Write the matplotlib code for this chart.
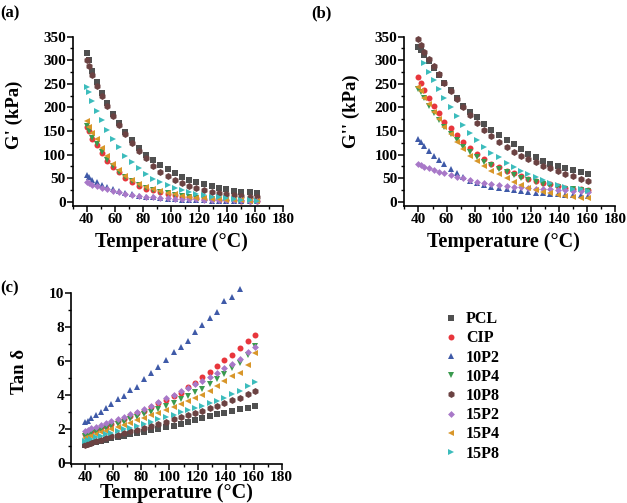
import numpy as np
import matplotlib.pyplot as plt
from matplotlib.ticker import MultipleLocator

plt.rcParams['font.family'] = ['Liberation Serif', 'DejaVu Serif']
plt.rcParams['font.weight'] = 'bold'
plt.rcParams['axes.labelweight'] = 'bold'

nan = np.nan

# temperature (°C)
temp = [40, 41.5, 44, 47.5, 51, 54.5, 58.5, 63, 67.5, 72, 77, 82, 87, 92, 97.5,
        103, 108, 113, 118, 123.5, 129, 134, 139, 144.5, 150, 156, 161]

names = ['PCL', 'CIP', '10P2', '10P4', '10P8', '15P2', '15P4', '15P8']

# G' (kPa)
g1_pcl = [316, 300, 278, 253, 230, 209, 187, 168, 148, 131, 114, 100, 88, 78, 69, 61, 53, 47, 42, 37, 33, 30, 26, 23, 21, 20, 18]
g1_cip = [158, 150, 134, 120, 103, 86, 74, 62, 50, 41, 34, 28, 24, 20, 17, 14, 11, 9, 7.5, 6, 5, 4, 3.5, 3, 2.5, 2, 2]
g1_10p2 = [56, 52, 46, 41, 36, 31, 27, 23, 19, 16, 13, 11, 9, 7.5, 6, 5, 4.5, 4, 3.5, 3, 2.5, 2, 2, 1.5, 1.5, 1.5, 1]
g1_10p4 = [160, 149, 136, 122, 106, 89, 76, 64, 52, 43, 36, 30, 25, 21, 18, 15, 12, 10, 8, 6.5, 5.5, 4.5, 4, 3.5, 3, 2.5, 2]
g1_10p8 = [300, 288, 268, 246, 224, 204, 182, 162, 143, 125, 107, 92, 76, 64, 54, 46, 40, 34, 29, 25, 21, 18, 16, 14, 12, 11, 10]
g1_15p2 = [42, 39, 36, 33, 29, 26, 23, 20, 17, 15, 13, 11, 10, 8.5, 7.5, 6.5, 6, 5.5, 5, 4.5, 4, 3.5, 3.5, 3, 3, 2.5, 2.5]
g1_15p4 = [172, 159, 145, 132, 113, 96, 80, 67, 55, 46, 38, 32, 27, 23, 19, 16, 13, 10, 8.5, 7, 6, 5, 4, 3.5, 3, 2.5, 2]
g1_15p8 = [243, 232, 214, 193, 173, 153, 134, 117, 98, 84, 71, 59, 49, 41, 35, 29, 24, 20, 17, 14, 11, 9, 7, 5, 4, 3, 2]

# G'' (kPa)
g2_pcl = [328, 322, 312, 298, 284, 268, 252, 236, 219, 204, 191, 179, 165, 152, 142, 131, 122, 111, 102, 94, 86, 80, 76, 71, 67, 63, 59]
g2_cip = [264, 252, 237, 221, 203, 188, 170, 156, 141, 127, 113, 101, 90, 81, 73, 66, 60, 54, 48, 44, 40, 37, 33, 30, 28, 26, 24]
g2_10p2 = [132, 127, 118, 108, 97, 88, 79, 69, 60, 53, 45, 40, 36, 32, 29, 26, 24, 22, 21, 19, 18, 17, 16, 15, 14, 13.5, 13]
g2_10p4 = [240, 233, 219, 204, 189, 173, 158, 143, 130, 117, 105, 94, 85, 77, 70, 63, 57, 51, 46, 42, 38, 34, 31, 28, 26, 24, 22]
g2_10p8 = [345, 333, 318, 302, 287, 270, 252, 235, 217, 200, 184, 166, 152, 139, 127, 117, 106, 98, 91, 84, 76, 71, 65, 59, 54, 49, 44]
g2_15p2 = [81, 78, 74, 71, 67, 64, 60, 57, 53, 50, 46, 42, 40, 37.5, 35, 33, 32, 30.5, 29, 27.5, 27, 26, 25, 24, 23, 22.5, 21]
g2_15p4 = [243, 235, 221, 207, 191, 175, 159, 144, 127, 112, 98, 86, 76, 66, 58, 50, 42, 35, 30, 25, 21, 18, 14, 12, 10.5, 8.5, 7]
g2_15p8 = [nan, nan, 294, 276, 258, 238, 221, 201, 182, 163, 146, 131, 117, 104, 94, 83, 74, 66, 59, 52, 46, 40, 35, 32, 28, 26, 23]

# Tan delta
td_pcl = [1.05, 1.1, 1.16, 1.23, 1.3, 1.37, 1.45, 1.52, 1.6, 1.68, 1.76, 1.84, 1.92, 2.0, 2.1, 2.2, 2.3, 2.42, 2.52, 2.64, 2.75, 2.86, 2.96, 3.07, 3.16, 3.25, 3.35]
td_cip = [1.72, 1.78, 1.86, 1.97, 2.08, 2.2, 2.32, 2.45, 2.6, 2.75, 2.92, 3.08, 3.27, 3.5, 3.73, 3.94, 4.12, 4.45, 4.72, 5.04, 5.37, 5.71, 6.05, 6.35, 6.75, 7.18, 7.55]
td_10p2 = [2.39, 2.49, 2.67, 2.82, 3.02, 3.21, 3.47, 3.74, 3.94, 4.29, 4.49, 4.92, 5.31, 5.63, 6.06, 6.55, 6.84, 7.2, 7.69, 8.12, 8.51, 8.88, 9.55, 9.78, 10.24, nan, nan]
td_10p4 = [1.6, 1.66, 1.74, 1.85, 1.95, 2.05, 2.17, 2.3, 2.43, 2.56, 2.7, 2.86, 3.02, 3.2, 3.38, 3.55, 3.75, 3.95, 4.15, 4.38, 4.65, 4.95, 5.25, 5.57, 5.9, 6.35, 6.9]
td_10p8 = [1.08, 1.13, 1.2, 1.3, 1.38, 1.46, 1.56, 1.66, 1.76, 1.86, 1.97, 2.08, 2.2, 2.3, 2.42, 2.56, 2.68, 2.8, 2.93, 3.07, 3.22, 3.37, 3.52, 3.68, 3.85, 4.03, 4.24]
td_15p2 = [1.9, 1.96, 2.04, 2.14, 2.25, 2.36, 2.48, 2.6, 2.73, 2.87, 3.02, 3.2, 3.38, 3.58, 3.8, 4.0, 4.22, 4.43, 4.63, 4.83, 5.03, 5.27, 5.57, 5.8, 6.1, 6.55, 6.85]
td_15p4 = [1.45, 1.52, 1.6, 1.7, 1.8, 1.9, 2.0, 2.12, 2.24, 2.36, 2.5, 2.64, 2.8, 2.96, 3.13, 3.31, 3.47, 3.62, 3.8, 4.0, 4.25, 4.53, 4.85, 5.1, 5.32, 5.76, 6.47]
td_15p8 = [1.3, 1.35, 1.42, 1.52, 1.6, 1.68, 1.78, 1.88, 1.98, 2.08, 2.2, 2.32, 2.44, 2.56, 2.7, 2.84, 2.98, 3.1, 3.25, 3.38, 3.53, 3.67, 3.82, 4.05, 4.25, 4.5, 4.78]

gp = [g1_pcl, g1_cip, g1_10p2, g1_10p4, g1_10p8, g1_15p2, g1_15p4, g1_15p8]
gpp = [g2_pcl, g2_cip, g2_10p2, g2_10p4, g2_10p8, g2_15p2, g2_15p4, g2_15p8]
tand = [td_pcl, td_cip, td_10p2, td_10p4, td_10p8, td_15p2, td_15p4, td_15p8]

colors = ['#505050', '#e8363c', '#3f5aa8', '#3a9a4e', '#6b4242', '#a878c8', '#d8962a', '#3cbcbc']
markers = ['s', 'o', '^', 'v', 'h', 'D', '<', '>']
sizes = [4, 4.3, 4.3, 4.3, 5, 3.5, 4.3, 4.3]

fig = plt.figure(figsize=(6.27, 5.03), dpi=100)
ax_a = fig.add_axes([0.116, 0.5905, 0.336, 0.3366])
ax_b = fig.add_axes([0.645, 0.5905, 0.336, 0.3366])
ax_c = fig.add_axes([0.114, 0.0775, 0.335, 0.34])


def style(ax):
    ax.spines['top'].set_visible(False)
    ax.spines['right'].set_visible(False)
    ax.spines['left'].set_linewidth(1.2)
    ax.spines['bottom'].set_linewidth(1.2)
    ax.set_xlim(30, 180)
    ax.xaxis.set_major_locator(MultipleLocator(20))
    ax.xaxis.set_minor_locator(MultipleLocator(10))
    ax.set_xticks(np.arange(40, 181, 20))
    ax.tick_params(which='major', direction='out', length=4, width=1.1, labelsize=11, pad=1)
    ax.tick_params(which='minor', direction='out', length=2, width=1)


for ax, data in [(ax_a, gp), (ax_b, gpp), (ax_c, tand)]:
    for d, c, m, s, n in zip(data, colors, markers, sizes, names):
        ax.plot(temp, d, linestyle='none', marker=m, color=c, markersize=s,
                markeredgewidth=0, label=n, clip_on=False)
    style(ax)

for ax in (ax_a, ax_b):
    ax.set_ylim(-9, 350)
    ax.yaxis.set_major_locator(MultipleLocator(50))
    ax.yaxis.set_minor_locator(MultipleLocator(25))

ax_c.set_ylim(-0.06, 10)
ax_c.yaxis.set_major_locator(MultipleLocator(2))
ax_c.yaxis.set_minor_locator(MultipleLocator(1))

ax_a.set_ylabel("G' (kPa)", fontsize=13.5)
ax_a.yaxis.set_label_coords(-0.236, 0.54)
ax_b.set_ylabel("G'' (kPa)", fontsize=13.5)
ax_b.yaxis.set_label_coords(-0.21, 0.56)
ax_c.set_ylabel("Tan δ", fontsize=13.5)
ax_c.yaxis.set_label_coords(-0.208, 0.54)

ax_a.set_xlabel('Temperature (°C)', fontsize=14.5)
ax_a.xaxis.set_label_coords(0.47, -0.155)
ax_b.set_xlabel('Temperature (°C)', fontsize=14.5)
ax_b.xaxis.set_label_coords(0.47, -0.155)
ax_c.set_xlabel('Temperature (°C)', fontsize=14.5)
ax_c.xaxis.set_label_coords(0.5, -0.11)

fig.text(0.0, 0.99, '(a)', fontsize=12, va='top', ha='left')
fig.text(0.497, 0.99, '(b)', fontsize=12, va='top', ha='left')
fig.text(0.0, 0.443, '(c)', fontsize=12, va='top', ha='left')

handles, labels = ax_c.get_legend_handles_labels()
fig.legend(handles, labels, loc='upper left', bbox_to_anchor=(0.697, 0.397),
           frameon=False, fontsize=11.5, handlelength=0.8, handletextpad=0.5,
           labelspacing=0.2, borderpad=0, markerscale=1.0)

fig.savefig('out.png', dpi=100)
